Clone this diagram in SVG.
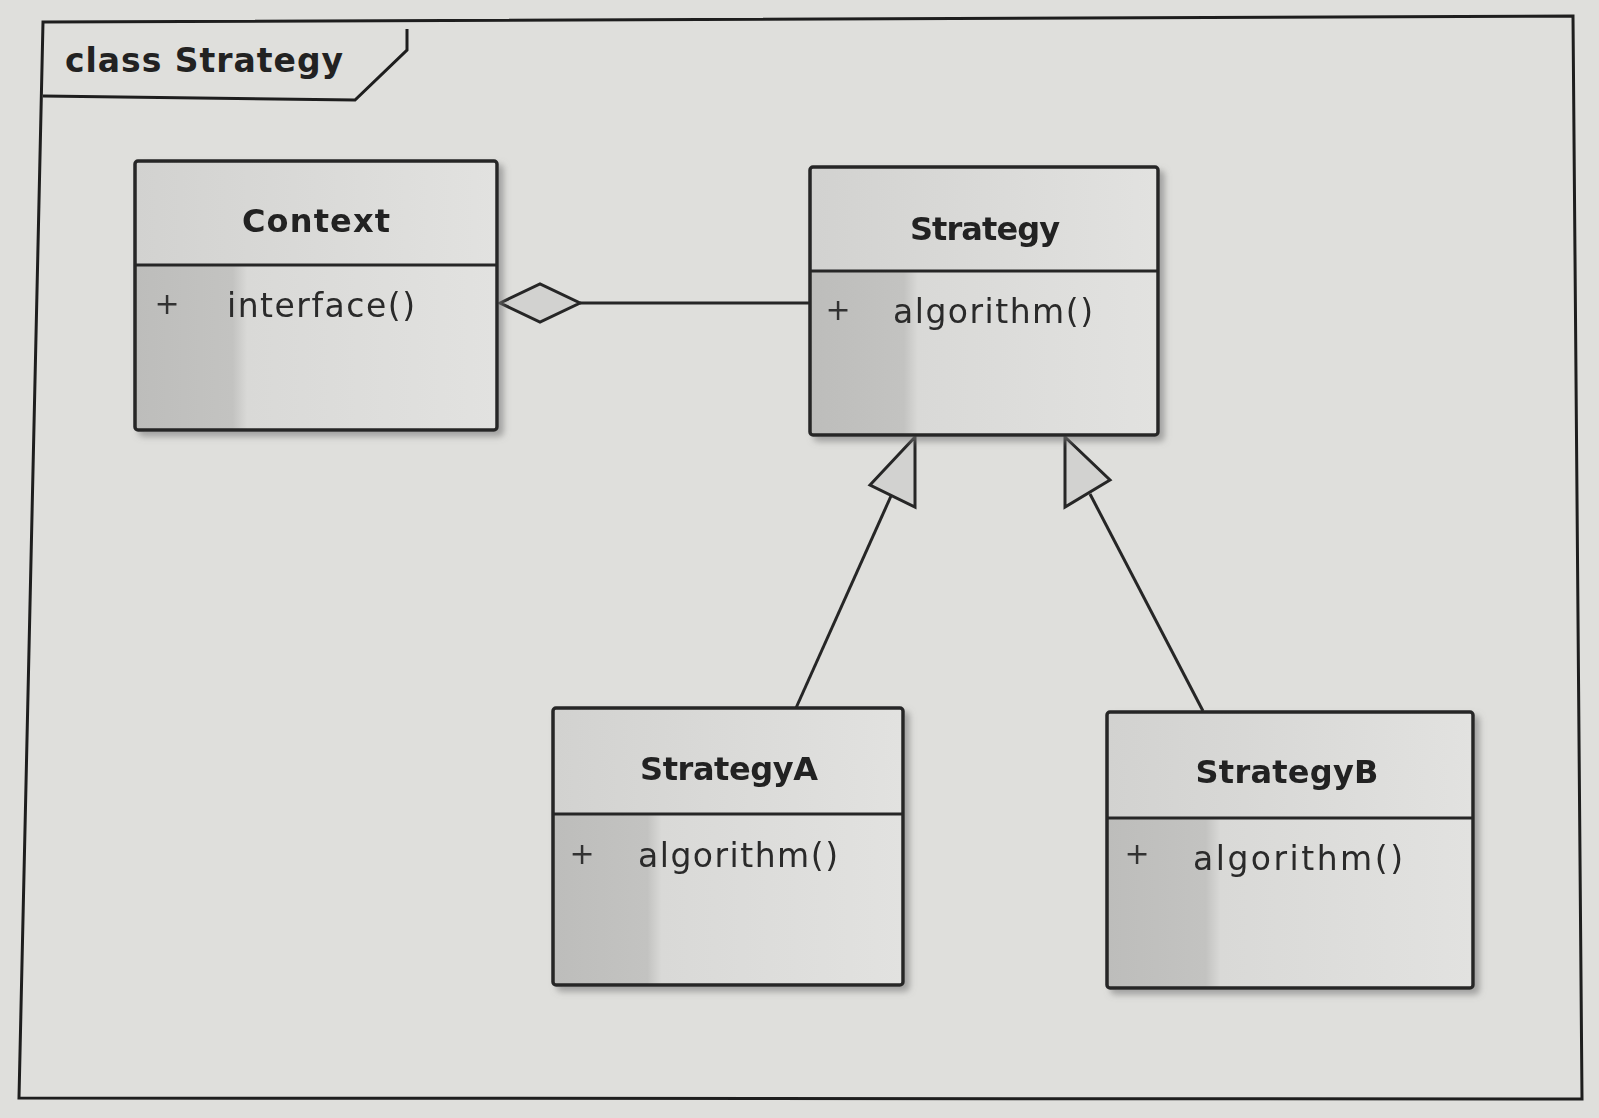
<svg xmlns="http://www.w3.org/2000/svg" width="1599" height="1118" viewBox="0 0 1599 1118">
<style>
.frame{fill:none;stroke:#1e1e1e;stroke-width:3;stroke-linejoin:miter}
.box{stroke:#262626;stroke-width:3.5;fill:none}
.div{stroke:#262626;stroke-width:3}
.hdr{fill:url(#hdrFill)}
.body{fill:url(#bodyFill)}
.name{font-family:"DejaVu Sans","Liberation Sans",sans-serif;font-weight:bold;font-size:32px;fill:#222;text-anchor:middle}
.op{font-family:"DejaVu Sans","Liberation Sans",sans-serif;font-size:33px;fill:#2a2a2a}
.vis{font-family:"DejaVu Sans","Liberation Sans",sans-serif;font-size:30px;fill:#333;text-anchor:middle}
.title{font-family:"DejaVu Sans","Liberation Sans",sans-serif;font-weight:bold;font-size:33px;fill:#222}
.conn{stroke:#262626;stroke-width:3;fill:none}
.head{stroke:#262626;stroke-width:3;fill:#d2d2d0;stroke-linejoin:miter}
</style>
<defs>
<linearGradient id="hdrFill" x1="0" y1="0" x2="1" y2="0">
<stop offset="0" stop-color="#d2d2d0"/>
<stop offset="1" stop-color="#e2e2e0"/>
</linearGradient>
<linearGradient id="bodyFill" x1="0" y1="0" x2="1" y2="0">
<stop offset="0" stop-color="#bdbdbb"/>
<stop offset="0.27" stop-color="#c3c3c1"/>
<stop offset="0.31" stop-color="#d9d9d7"/>
<stop offset="1" stop-color="#e2e2e0"/>
</linearGradient>
<filter id="shadow" x="-5%" y="-5%" width="115%" height="115%">
<feDropShadow dx="5" dy="5" stdDeviation="3" flood-color="#7a7a7a" flood-opacity="0.6"/>
</filter>
</defs>
<rect x="0" y="0" width="1599" height="1118" fill="#dfdfdc"/>
<g id="frame">
<polygon class="frame" points="43,22 1573,16 1582,1099 19,1098"/>
<polyline class="frame" points="407,29 407,50 355,100 43,96"/>
<text class="title" x="65" y="72" textLength="278" lengthAdjust="spacing">class Strategy</text>
</g>
<g id="connectors">
<line class="conn" x1="580" y1="303" x2="810" y2="303"/>
<polygon class="head" points="500,303 540,284 580,303 540,322"/>
<line class="conn" x1="796" y1="708" x2="891" y2="496"/>
<polygon class="head" points="915,437 870,485 915,507"/>
<line class="conn" x1="1203" y1="711" x2="1090" y2="494"/>
<polygon class="head" points="1065,437 1110,480 1065,507"/>
</g>
<g id="Context" filter="url(#shadow)">
<rect class="hdr" x="135" y="161" width="362" height="104"/>
<rect class="body" x="135" y="265" width="362" height="165"/>
<rect class="box" x="135" y="161" width="362" height="269" rx="3"/>
<line class="div" x1="135" y1="265" x2="497" y2="265"/>
<text class="name" x="316" y="232" textLength="148" lengthAdjust="spacing">Context</text>
<text class="vis" x="167" y="314">+</text>
<text class="op" x="227" y="317" textLength="188" lengthAdjust="spacing">interface()</text>
</g>
<g id="Strategy" filter="url(#shadow)">
<rect class="hdr" x="810" y="167" width="348" height="104"/>
<rect class="body" x="810" y="271" width="348" height="164"/>
<rect class="box" x="810" y="167" width="348" height="268" rx="3"/>
<line class="div" x1="810" y1="271" x2="1158" y2="271"/>
<text class="name" x="985" y="240" textLength="150" lengthAdjust="spacing">Strategy</text>
<text class="vis" x="838" y="320">+</text>
<text class="op" x="893" y="323" textLength="200" lengthAdjust="spacing">algorithm()</text>
</g>
<g id="StrategyA" filter="url(#shadow)">
<rect class="hdr" x="553" y="708" width="350" height="106"/>
<rect class="body" x="553" y="814" width="350" height="171"/>
<rect class="box" x="553" y="708" width="350" height="277" rx="3"/>
<line class="div" x1="553" y1="814" x2="903" y2="814"/>
<text class="name" x="729" y="780" textLength="178" lengthAdjust="spacing">StrategyA</text>
<text class="vis" x="582" y="864">+</text>
<text class="op" x="638" y="867" textLength="200" lengthAdjust="spacing">algorithm()</text>
</g>
<g id="StrategyB" filter="url(#shadow)">
<rect class="hdr" x="1107" y="712" width="366" height="106"/>
<rect class="body" x="1107" y="818" width="366" height="170"/>
<rect class="box" x="1107" y="712" width="366" height="276" rx="3"/>
<line class="div" x1="1107" y1="818" x2="1473" y2="818"/>
<text class="name" x="1287" y="783" textLength="183" lengthAdjust="spacing">StrategyB</text>
<text class="vis" x="1137" y="864">+</text>
<text class="op" x="1193" y="870" textLength="210" lengthAdjust="spacing">algorithm()</text>
</g>
</svg>
